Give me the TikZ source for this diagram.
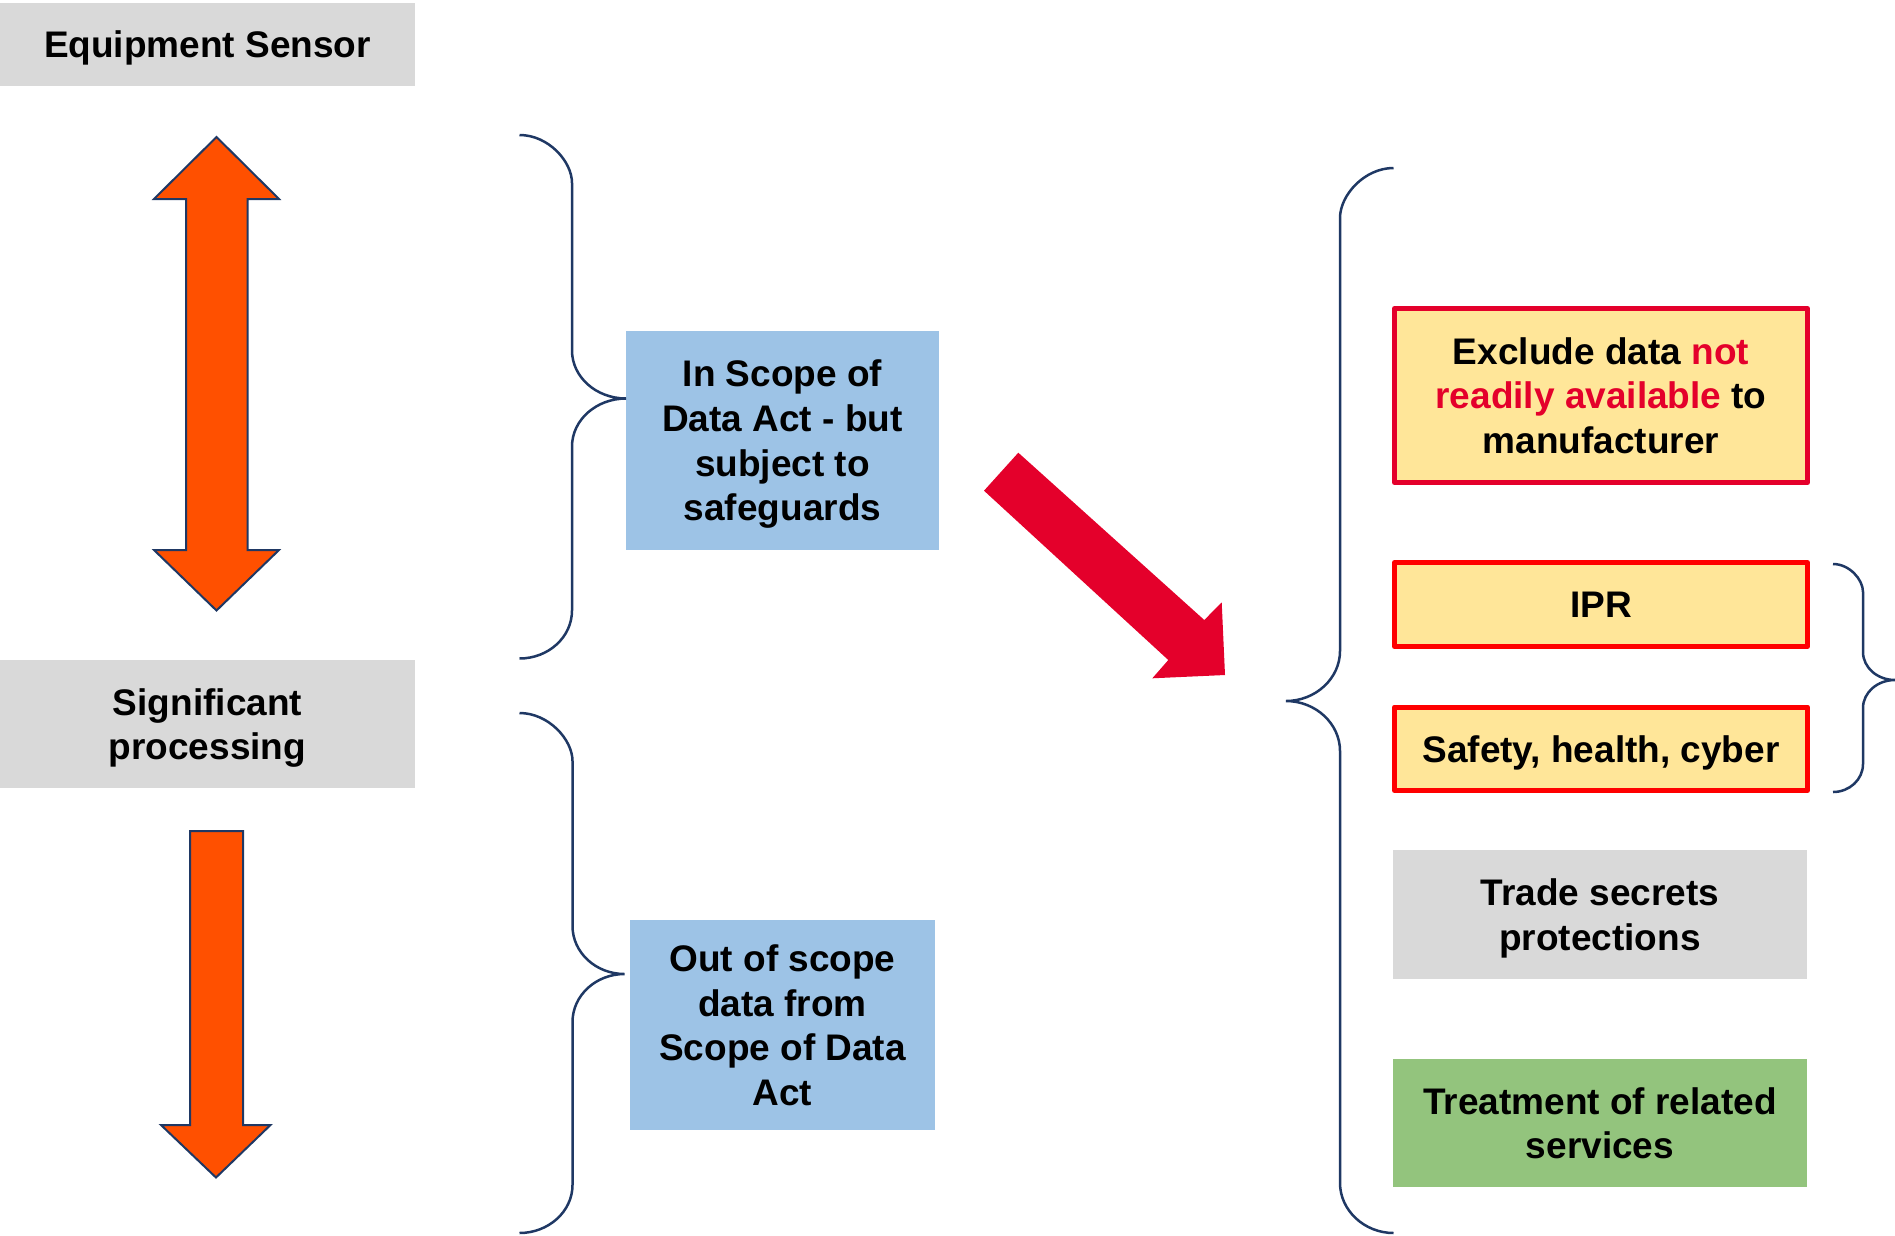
\documentclass[tikz,border=0pt]{standalone}
\usepackage{fontspec}
\setmainfont{Liberation Sans}
\definecolor{boxgray}{HTML}{D9D9D9}
\definecolor{boxblue}{HTML}{9DC3E6}
\definecolor{boxyellow}{HTML}{FFE699}
\definecolor{boxgreen}{HTML}{93C47D}
\definecolor{crimson}{HTML}{E4002B}
\definecolor{pured}{HTML}{FF0000}
\definecolor{arroworange}{HTML}{FF5000}
\definecolor{navy}{HTML}{1F3864}
\begin{document}
\begin{tikzpicture}[x=1pt,y=-1pt,
  txt/.style={inner sep=0pt, outer sep=0pt, align=center, text=black, text depth=0pt,
    font=\fontsize{37}{44.7}\selectfont\bfseries},
  graybox/.style={txt, fill=boxgray},
  bluebox/.style={txt, fill=boxblue},
  greenbox/.style={txt, fill=boxgreen},
  yellowbox/.style={txt, fill=boxyellow, draw=#1, line width=5pt, line join=round},
  blockarrow/.style={fill=arroworange, draw=navy, line width=2pt, line join=miter},
  bracestyle/.style={draw=navy, line width=2.5pt}]
\useasboundingbox (0,0) rectangle (1895,1235);

% left column boxes
\node[graybox, minimum width=415pt, minimum height=83pt] (sensor) at (207.5,44.5) {Equipment Sensor};
\node[graybox, minimum width=415pt, minimum height=128pt] (sigproc) at (207.5,724) {Significant\\processing};

% orange arrows
\path[blockarrow] (216.5,137) -- (279,199) -- (247.5,199) -- (247.5,550) -- (279,550)
  -- (216.5,610.5) -- (154,550) -- (186,550) -- (186,199) -- (154,199) -- cycle;
\path[blockarrow] (190,831) -- (243,831) -- (243,1125) -- (270.5,1125) -- (216,1177.5)
  -- (161,1125) -- (190,1125) -- cycle;

% middle boxes
\node[bluebox, minimum width=313pt, minimum height=219pt] (inscope) at (782.5,440.5)
  {In Scope of\\Data Act - but\\subject to\\safeguards};
\node[bluebox, minimum width=305pt, minimum height=210pt] (outscope) at (782.5,1025)
  {Out of scope\\data from\\Scope of Data\\Act};

% braces left
\path[bracestyle] (519.5,135) .. controls (548.5,135) and (572,161.5) .. (572,183)
  -- (572,350.5) .. controls (572,377) and (596.2,398.5) .. (626,398.5)
  .. controls (596.2,398.5) and (572,420) .. (572,446.5)
  -- (572,610.5) .. controls (572,637) and (548.5,658.5) .. (519.5,658.5);
\path[bracestyle] (519.5,713) .. controls (548.5,713) and (572.5,739.5) .. (572.5,761)
  -- (572.5,926) .. controls (572.5,952.5) and (595.8,974) .. (624.5,974)
  .. controls (595.8,974) and (572.5,995.5) .. (572.5,1022)
  -- (572.5,1185) .. controls (572.5,1211.5) and (548.5,1233) .. (519.5,1233);

% red arrow
\path[fill=crimson] (1018.3,452.7) -- (1204.3,620) -- (1221.7,602.3) -- (1225,675)
  -- (1152.3,678.3) -- (1168.3,660) -- (984,490.7) -- cycle;

% big right brace
\path[bracestyle] (1393.5,168) .. controls (1364.5,168) and (1340,195) .. (1340,218)
  -- (1340,651) .. controls (1340,678.5) and (1315.5,701) .. (1286,701)
  .. controls (1315.5,701) and (1340,723.5) .. (1340,751)
  -- (1340,1183) .. controls (1340,1210.5) and (1364.5,1233) .. (1393.5,1233);

% right column boxes
\node[yellowbox=crimson, minimum width=413pt, minimum height=174pt] (exclude) at (1601,395.5)
  {Exclude data \textcolor{crimson}{not}\\\textcolor{crimson}{readily available} to\\manufacturer};
\node[yellowbox=pured, minimum width=413pt, minimum height=84pt] (ipr) at (1601,604.5) {IPR};
\node[yellowbox=pured, minimum width=413pt, minimum height=83.5pt] (safety) at (1601,748.75)
  {Safety, health, cyber};
\node[graybox, minimum width=414pt, minimum height=129pt] (trade) at (1600,914.5)
  {Trade secrets\\protections};
\node[greenbox, minimum width=414pt, minimum height=128pt] (treat) at (1600,1123)
  {Treatment of related\\services};

% small brace
\path[bracestyle] (1833,564) .. controls (1849.5,564) and (1863,579.5) .. (1863,592)
  -- (1863,652) .. controls (1863,667.5) and (1877.3,680) .. (1895,680)
  .. controls (1877.3,680) and (1863,692.5) .. (1863,708)
  -- (1863,764) .. controls (1863,779.5) and (1849.5,792) .. (1833,792);
\end{tikzpicture}
\end{document}
